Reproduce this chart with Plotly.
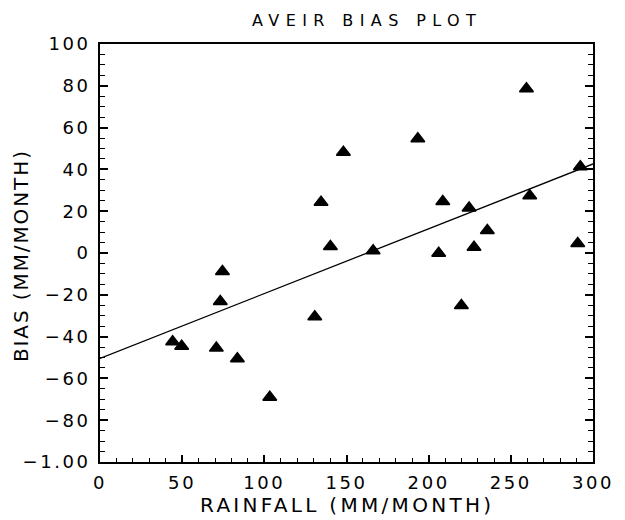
import plotly.graph_objects as go

rainfall = [44.2, 49.7, 70.8, 73.2, 74.5, 83.6, 103.3, 130.7, 134.5, 140.2, 148.1, 166.2,
            193.4, 206.1, 208.6, 219.9, 224.6, 227.6, 235.7, 259.5, 261.5, 290.7, 292.3]
bias = [-42.5, -44.6, -45.5, -23.2, -8.8, -50.6, -69.0, -30.5, 24.3, 3.1, 48.2, 1.1,
        54.7, -0.1, 24.7, -25.1, 21.5, 2.8, 10.8, 78.6, 27.4, 4.6, 41.3]

fit_intercept = -50.4
fit_slope = 0.31
fit_x = [0, 300]
fit_y = [fit_intercept + fit_slope * v for v in fit_x]

x_tickvals = [0, 50, 100, 150, 200, 250, 300]
x_ticktext = ["0", "50", "100", "150", "200", "250", "300"]
y_tickvals = [100, 80, 60, 40, 20, 0, -20, -40, -60, -80, -100]
y_ticktext = ["100", "80", "60", "40", "20", "0", "−20", "−40", "−60", "−80", "−1.00"]

title_text = "AVEIR BIAS PLOT"
x_title = "RAINFALL (MM/MONTH)"
y_title = "BIAS (MM/MONTH)"

FONT = "DejaVu Sans"

def spaced(t, px):
    return '<span style="letter-spacing:%.1fpx">%s</span>' % (px, t)

fig = go.Figure()
fig.add_trace(go.Scatter(x=fit_x, y=fit_y, mode="lines",
                         line=dict(color="black", width=1.3), hoverinfo="skip"))
fig.add_trace(go.Scatter(x=rainfall, y=bias, mode="markers",
                         marker=dict(symbol="triangle-up", size=12, color="black",
                                     line=dict(color="black", width=1.5))))

fig.update_layout(
    width=625, height=520,
    margin=dict(l=100, r=32, t=44, b=58),
    paper_bgcolor="white", plot_bgcolor="white",
    showlegend=False,
    font=dict(family=FONT, color="black"),
    xaxis=dict(range=[0, 300], showgrid=False, zeroline=False,
               showline=True, linecolor="black", linewidth=1.5, mirror=True,
               ticks="inside", ticklen=7, tickwidth=1.5, tickcolor="black",
               tickvals=x_tickvals, ticktext=[spaced(t, 2.6) for t in x_ticktext],
               tickfont=dict(size=18, family=FONT, color="black"),
               minor=dict(dtick=10, ticks="inside", ticklen=4, tickwidth=1.2, tickcolor="black"),
               ticklabelstandoff=4),
    yaxis=dict(range=[-100, 100], showgrid=False, zeroline=False,
               showline=True, linecolor="black", linewidth=1.5, mirror="ticks",
               ticks="inside", ticklen=8, tickwidth=1.5, tickcolor="black",
               tickvals=y_tickvals, ticktext=[spaced(t, 2.6) for t in y_ticktext],
               tickfont=dict(size=18, family=FONT, color="black"),
               minor=dict(dtick=5, ticks="inside", ticklen=5, tickwidth=1.2, tickcolor="black"),
               ticklabelstandoff=4),
    annotations=[
        dict(text=spaced(title_text, 6.4), xref="paper", yref="paper",
             x=0.5416, y=1.057, xanchor="center", yanchor="middle", showarrow=False,
             font=dict(size=16, family=FONT, color="black")),
        dict(text=spaced(x_title, 3.3), xref="paper", yref="paper",
             x=0.501, y=-0.103, xanchor="center", yanchor="middle", showarrow=False,
             font=dict(size=20, family=FONT, color="black")),
        dict(text=spaced(y_title, 1.9), xref="paper", yref="paper",
             x=-0.160, y=0.493, xanchor="center", yanchor="middle", showarrow=False,
             textangle=-90, font=dict(size=20, family=FONT, color="black")),
    ],
)

fig.write_html("out.html", config={"displayModeBar": False},
               post_script="document.body.style.margin='0';")
